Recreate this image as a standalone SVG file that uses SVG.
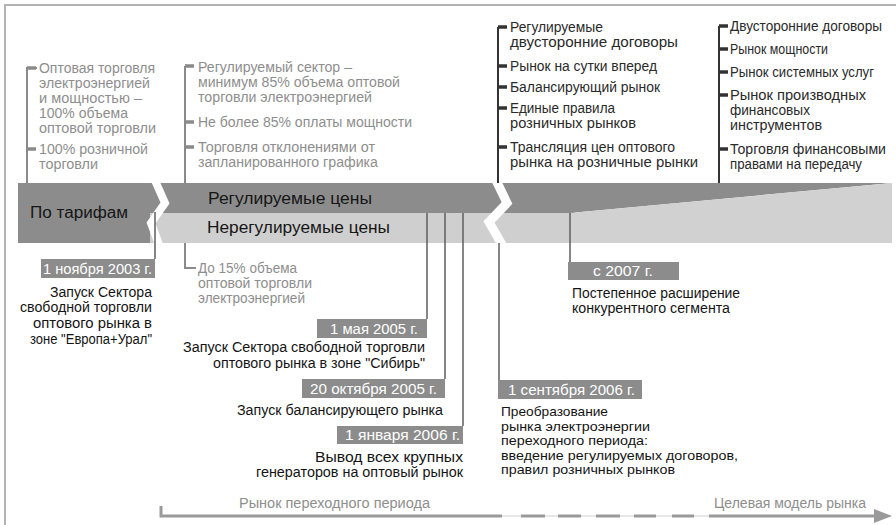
<svg xmlns="http://www.w3.org/2000/svg" width="896" height="525" viewBox="0 0 896 525">
<style>
text{font-family:"Liberation Sans",Arial,sans-serif;font-size:14px}
.g{fill:#8e8e8e}
.d{fill:#2a2a2a}
.k{fill:#141414}
.s{font-size:13.5px}
.w{fill:#ffffff}
.bt{font-size:16px;fill:#161616}
.brg{stroke:#8a8a8a;stroke-width:2;fill:none}
.brd{stroke:#333;stroke-width:2;fill:none}
.tkg{stroke:#8a8a8a;stroke-width:3.5}
.tkd{stroke:#333;stroke-width:3.5}
.ev{stroke:#5e5e5e;stroke-width:1.5;fill:none}
.box{fill:#8c8c8c}
</style>
<rect x="0" y="0" width="896" height="525" fill="#fff"/>
<rect id="frame" x="5" y="5" width="900" height="530" fill="#fff" stroke="#b4b4b4" stroke-width="2"/>

<g id="band">
  <rect x="18" y="183" width="150" height="60" fill="#8c8c8c"/>
  <rect x="150" y="183" width="425" height="30" fill="#8c8c8c"/>
  <rect x="150" y="213" width="425" height="30" fill="#cfcfcf"/>
  <polygon points="570,183 892,183 570,213" fill="#8c8c8c"/>
  <polygon points="570,213 892,183 892,243 570,243" fill="#d1d1d1"/>
  <polyline points="153,176 165,203 151,223 161,250" fill="none" stroke="#fff" stroke-width="8"/>
  <polyline points="494,176 507,203 489,222 505,250" fill="none" stroke="#fff" stroke-width="9"/>
  <text class="bt" x="30" y="218" textLength="98" lengthAdjust="spacingAndGlyphs">По тарифам</text>
  <text class="bt" x="208" y="204" textLength="164" lengthAdjust="spacingAndGlyphs">Регулируемые цены</text>
  <text class="bt" x="207" y="233" textLength="183" lengthAdjust="spacingAndGlyphs">Нерегулируемые цены</text>
</g>

<g id="connectors">
  <polyline class="brg" points="37,68 27,68 27,183"/>
  <line class="tkg" x1="27" y1="68" x2="36" y2="68"/>
  <line class="tkg" x1="27" y1="149" x2="36" y2="149"/>
  <polyline class="brg" points="185,66 185,183"/>
  <line class="tkg" x1="185" y1="66" x2="194" y2="66"/>
  <line class="tkg" x1="185" y1="122" x2="194" y2="122"/>
  <line class="tkg" x1="185" y1="147" x2="194" y2="147"/>
  <polyline class="brg" points="185,243 185,268 196,268"/>
  <polyline class="brd" points="498,27 498,183"/>
  <line class="tkd" x1="498" y1="27" x2="507" y2="27"/>
  <line class="tkd" x1="498" y1="66" x2="507" y2="66"/>
  <line class="tkd" x1="498" y1="87" x2="507" y2="87"/>
  <line class="tkd" x1="498" y1="108" x2="507" y2="108"/>
  <line class="tkd" x1="498" y1="147" x2="507" y2="147"/>
  <polyline class="brd" points="719,26 719,183"/>
  <line class="tkd" x1="719" y1="26" x2="728" y2="26"/>
  <line class="tkd" x1="719" y1="49" x2="728" y2="49"/>
  <line class="tkd" x1="719" y1="72" x2="728" y2="72"/>
  <line class="tkd" x1="719" y1="95" x2="728" y2="95"/>
  <line class="tkd" x1="719" y1="149" x2="728" y2="149"/>
  <line class="ev" x1="155" y1="212" x2="155" y2="259"/>
  <line class="ev" x1="427" y1="213" x2="427" y2="319"/>
  <line class="ev" x1="445" y1="213" x2="445" y2="379"/>
  <line class="ev" x1="463" y1="213" x2="463" y2="426"/>
  <line class="ev" x1="499" y1="243" x2="499" y2="380"/>
  <line class="ev" x1="570" y1="213" x2="570" y2="262"/>
</g>

<g id="note-tariff">
  <text class="g" x="39" y="73" textLength="116" lengthAdjust="spacingAndGlyphs">Оптовая торговля</text>
  <text class="g" x="39" y="88" textLength="111" lengthAdjust="spacingAndGlyphs">электроэнергией</text>
  <text class="g" x="39" y="103" textLength="103" lengthAdjust="spacingAndGlyphs">и мощностью –</text>
  <text class="g" x="39" y="118" textLength="89" lengthAdjust="spacingAndGlyphs">100% объема</text>
  <text class="g" x="39" y="133" textLength="117" lengthAdjust="spacingAndGlyphs">оптовой торговли</text>
  <text class="g" x="39" y="154" textLength="109" lengthAdjust="spacingAndGlyphs">100% розничной</text>
  <text class="g" x="39" y="169" textLength="59" lengthAdjust="spacingAndGlyphs">торговли</text>
</g>

<g id="note-regulated">
  <text class="g" x="198" y="72" textLength="154" lengthAdjust="spacingAndGlyphs">Регулируемый сектор –</text>
  <text class="g" x="198" y="87" textLength="202" lengthAdjust="spacingAndGlyphs">минимум 85% объема оптовой</text>
  <text class="g" x="198" y="102" textLength="174" lengthAdjust="spacingAndGlyphs">торговли электроэнергией</text>
  <text class="g" x="198" y="127" textLength="214" lengthAdjust="spacingAndGlyphs">Не более 85% оплаты мощности</text>
  <text class="g" x="198" y="152" textLength="177" lengthAdjust="spacingAndGlyphs">Торговля отклонениями от</text>
  <text class="g" x="198" y="167" textLength="180" lengthAdjust="spacingAndGlyphs">запланированного графика</text>
</g>

<g id="note-free">
  <text class="g" x="198" y="273" textLength="99" lengthAdjust="spacingAndGlyphs">До 15% объема</text>
  <text class="g" x="198" y="288" textLength="114" lengthAdjust="spacingAndGlyphs">оптовой торговли</text>
  <text class="g" x="198" y="303" textLength="107" lengthAdjust="spacingAndGlyphs">электроэнергией</text>
</g>

<g id="note-transition">
  <text class="d" x="510" y="32" textLength="93" lengthAdjust="spacingAndGlyphs">Регулируемые</text>
  <text class="d" x="510" y="47" textLength="168" lengthAdjust="spacingAndGlyphs">двусторонние договоры</text>
  <text class="d" x="510" y="71" textLength="147" lengthAdjust="spacingAndGlyphs">Рынок на сутки вперед</text>
  <text class="d" x="510" y="92" textLength="150" lengthAdjust="spacingAndGlyphs">Балансирующий рынок</text>
  <text class="d" x="510" y="113" textLength="105" lengthAdjust="spacingAndGlyphs">Единые правила</text>
  <text class="d" x="510" y="128" textLength="126" lengthAdjust="spacingAndGlyphs">розничных рынков</text>
  <text class="d" x="510" y="152" textLength="165" lengthAdjust="spacingAndGlyphs">Трансляция цен оптового</text>
  <text class="d" x="510" y="167" textLength="188" lengthAdjust="spacingAndGlyphs">рынка на розничные рынки</text>
</g>

<g id="note-target">
  <text class="d" x="730" y="31" textLength="152" lengthAdjust="spacingAndGlyphs">Двусторонние договоры</text>
  <text class="d" x="730" y="54" textLength="98" lengthAdjust="spacingAndGlyphs">Рынок мощности</text>
  <text class="d" x="730" y="77" textLength="144" lengthAdjust="spacingAndGlyphs">Рынок системных услуг</text>
  <text class="d" x="730" y="100" textLength="136" lengthAdjust="spacingAndGlyphs">Рынок производных</text>
  <text class="d" x="730" y="115" textLength="80" lengthAdjust="spacingAndGlyphs">финансовых</text>
  <text class="d" x="730" y="130" textLength="92" lengthAdjust="spacingAndGlyphs">инструментов</text>
  <text class="d" x="730" y="154" textLength="156" lengthAdjust="spacingAndGlyphs">Торговля финансовыми</text>
  <text class="d" x="730" y="169" textLength="132" lengthAdjust="spacingAndGlyphs">правами на передачу</text>
</g>

<g id="event-2003">
  <rect class="box" x="41" y="259" width="114" height="19"/>
  <text class="w" x="43" y="274" textLength="109" lengthAdjust="spacingAndGlyphs">1 ноября 2003 г.</text>
  <text class="k" x="152" y="297" text-anchor="end" textLength="102" lengthAdjust="spacingAndGlyphs">Запуск Сектора</text>
  <text class="k" x="152" y="312" text-anchor="end" textLength="132" lengthAdjust="spacingAndGlyphs">свободной торговли</text>
  <text class="k" x="152" y="328" text-anchor="end" textLength="119" lengthAdjust="spacingAndGlyphs">оптового рынка в</text>
  <text class="k" x="152" y="344" text-anchor="end" textLength="122" lengthAdjust="spacingAndGlyphs">зоне "Европа+Урал"</text>
</g>

<g id="event-2005-05">
  <rect class="box" x="317" y="319" width="110" height="19"/>
  <text class="w" x="330" y="334" textLength="88" lengthAdjust="spacingAndGlyphs">1 мая 2005 г.</text>
  <text class="k" x="425" y="352" text-anchor="end" textLength="242" lengthAdjust="spacingAndGlyphs">Запуск Сектора свободной торговли</text>
  <text class="k" x="425" y="368" text-anchor="end" textLength="212" lengthAdjust="spacingAndGlyphs">оптового рынка в зоне "Сибирь"</text>
</g>

<g id="event-2005-10">
  <rect class="box" x="302" y="379" width="143" height="19"/>
  <text class="w" x="310" y="394" textLength="127" lengthAdjust="spacingAndGlyphs">20 октября 2005 г.</text>
  <text class="k" x="443" y="415" text-anchor="end" textLength="206" lengthAdjust="spacingAndGlyphs">Запуск балансирующего рынка</text>
</g>

<g id="event-2006-01">
  <rect class="box" x="337" y="426" width="126" height="18"/>
  <text class="w" x="345" y="440" textLength="115" lengthAdjust="spacingAndGlyphs">1 января 2006 г.</text>
  <text class="k" x="463" y="462" text-anchor="end" textLength="148" lengthAdjust="spacingAndGlyphs">Вывод всех крупных</text>
  <text class="k" x="463" y="477" text-anchor="end" textLength="207" lengthAdjust="spacingAndGlyphs">генераторов на оптовый рынок</text>
</g>

<g id="event-2006-09">
  <rect class="box" x="498" y="380" width="144" height="19"/>
  <text class="w" x="508" y="395" textLength="127" lengthAdjust="spacingAndGlyphs">1 сентября 2006 г.</text>
  <text class="k s" x="501" y="416" textLength="107" lengthAdjust="spacingAndGlyphs">Преобразование</text>
  <text class="k s" x="501" y="430.5" textLength="149" lengthAdjust="spacingAndGlyphs">рынка электроэнергии</text>
  <text class="k s" x="501" y="445" textLength="147" lengthAdjust="spacingAndGlyphs">переходного периода:</text>
  <text class="k s" x="501" y="459.5" textLength="237" lengthAdjust="spacingAndGlyphs">введение регулируемых договоров,</text>
  <text class="k s" x="501" y="474" textLength="174" lengthAdjust="spacingAndGlyphs">правил розничных рынков</text>
</g>

<g id="event-2007">
  <rect class="box" x="568" y="262" width="111" height="18"/>
  <text class="w" x="593" y="276" textLength="60" lengthAdjust="spacingAndGlyphs">с 2007 г.</text>
  <text class="k" x="572" y="298" textLength="168" lengthAdjust="spacingAndGlyphs">Постепенное расширение</text>
  <text class="k" x="572" y="313" textLength="158" lengthAdjust="spacingAndGlyphs">конкурентного сегмента</text>
</g>

<g id="timeline-arrow">
  <line x1="502" y1="516" x2="712" y2="516" stroke="#cfcfcf" stroke-width="1"/>
  <polyline points="161,506 161,516 502,516" fill="none" stroke="#9a9a9a" stroke-width="3"/>
  <line x1="521" y1="516" x2="545" y2="516" stroke="#9a9a9a" stroke-width="3"/>
  <line x1="558" y1="516" x2="581" y2="516" stroke="#9a9a9a" stroke-width="3"/>
  <line x1="596" y1="516" x2="620" y2="516" stroke="#9a9a9a" stroke-width="3"/>
  <line x1="634" y1="516" x2="656" y2="516" stroke="#9a9a9a" stroke-width="3"/>
  <line x1="672" y1="516" x2="694" y2="516" stroke="#9a9a9a" stroke-width="3"/>
  <line x1="709" y1="516" x2="876" y2="516" stroke="#9a9a9a" stroke-width="3"/>
  <polygon points="874,509 892,516 874,523" fill="#9a9a9a"/>
  <text class="g" x="239" y="508" textLength="191" lengthAdjust="spacingAndGlyphs">Рынок переходного периода</text>
  <text class="g" x="714" y="508" textLength="152" lengthAdjust="spacingAndGlyphs">Целевая модель рынка</text>
</g>
</svg>
